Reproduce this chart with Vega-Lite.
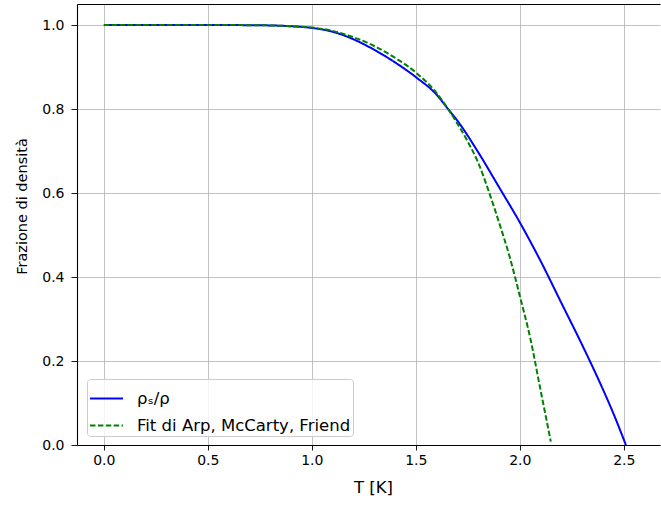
{
  "$schema": "https://vega.github.io/schema/vega-lite/v6.json",
  "width": 583,
  "height": 441,
  "autosize": {"type": "none"},
  "padding": {"left": 77, "top": 4, "right": 1, "bottom": 60},
  "background": "white",
  "config": {
    "view": {"stroke": null},
    "font": "DejaVu Sans",
    "axis": {
      "labelFont": "DejaVu Sans",
      "labelFontSize": 14,
      "labelColor": "#000000",
      "titleFont": "DejaVu Sans",
      "titleFontSize": 14,
      "titleFontWeight": "normal",
      "titleColor": "#000000",
      "tickColor": "#000000",
      "tickWidth": 0.9,
      "domain": true,
      "domainColor": "#000000",
      "domainWidth": 1.1,
      "grid": true,
      "gridColor": "#b0b0b0",
      "gridWidth": 0.9,
      "gridOpacity": 0.85
    },
    "legend": {
      "labelFont": "DejaVu Sans",
      "labelFontSize": 16.5,
      "labelColor": "#000000"
    }
  },
  "data": {
    "values": [
      {"T": 0.0, "v": 1.0, "s": "ρₛ/ρ"},
      {"T": 0.2, "v": 1.0, "s": "ρₛ/ρ"},
      {"T": 0.4, "v": 1.0, "s": "ρₛ/ρ"},
      {"T": 0.6, "v": 1.0, "s": "ρₛ/ρ"},
      {"T": 0.7, "v": 0.9995, "s": "ρₛ/ρ"},
      {"T": 0.8, "v": 0.999, "s": "ρₛ/ρ"},
      {"T": 0.9, "v": 0.997, "s": "ρₛ/ρ"},
      {"T": 1.0, "v": 0.993, "s": "ρₛ/ρ"},
      {"T": 1.1, "v": 0.984, "s": "ρₛ/ρ"},
      {"T": 1.2, "v": 0.966, "s": "ρₛ/ρ"},
      {"T": 1.3, "v": 0.941, "s": "ρₛ/ρ"},
      {"T": 1.4, "v": 0.911, "s": "ρₛ/ρ"},
      {"T": 1.5, "v": 0.876, "s": "ρₛ/ρ"},
      {"T": 1.6, "v": 0.834, "s": "ρₛ/ρ"},
      {"T": 1.655, "v": 0.80, "s": "ρₛ/ρ"},
      {"T": 1.7, "v": 0.772, "s": "ρₛ/ρ"},
      {"T": 1.8, "v": 0.697, "s": "ρₛ/ρ"},
      {"T": 1.9, "v": 0.614, "s": "ρₛ/ρ"},
      {"T": 2.0, "v": 0.530, "s": "ρₛ/ρ"},
      {"T": 2.1, "v": 0.438, "s": "ρₛ/ρ"},
      {"T": 2.2, "v": 0.338, "s": "ρₛ/ρ"},
      {"T": 2.3, "v": 0.238, "s": "ρₛ/ρ"},
      {"T": 2.4, "v": 0.132, "s": "ρₛ/ρ"},
      {"T": 2.45, "v": 0.075, "s": "ρₛ/ρ"},
      {"T": 2.51, "v": 0.0, "s": "ρₛ/ρ"},
      {"T": 0.0, "v": 1.0, "s": "Fit di Arp, McCarty, Friend"},
      {"T": 0.2, "v": 1.0, "s": "Fit di Arp, McCarty, Friend"},
      {"T": 0.4, "v": 1.0, "s": "Fit di Arp, McCarty, Friend"},
      {"T": 0.6, "v": 1.0, "s": "Fit di Arp, McCarty, Friend"},
      {"T": 0.7, "v": 0.9995, "s": "Fit di Arp, McCarty, Friend"},
      {"T": 0.8, "v": 0.999, "s": "Fit di Arp, McCarty, Friend"},
      {"T": 0.9, "v": 0.997, "s": "Fit di Arp, McCarty, Friend"},
      {"T": 1.0, "v": 0.994, "s": "Fit di Arp, McCarty, Friend"},
      {"T": 1.1, "v": 0.986, "s": "Fit di Arp, McCarty, Friend"},
      {"T": 1.2, "v": 0.971, "s": "Fit di Arp, McCarty, Friend"},
      {"T": 1.3, "v": 0.950, "s": "Fit di Arp, McCarty, Friend"},
      {"T": 1.4, "v": 0.922, "s": "Fit di Arp, McCarty, Friend"},
      {"T": 1.5, "v": 0.887, "s": "Fit di Arp, McCarty, Friend"},
      {"T": 1.6, "v": 0.838, "s": "Fit di Arp, McCarty, Friend"},
      {"T": 1.655, "v": 0.80, "s": "Fit di Arp, McCarty, Friend"},
      {"T": 1.7, "v": 0.765, "s": "Fit di Arp, McCarty, Friend"},
      {"T": 1.75, "v": 0.722, "s": "Fit di Arp, McCarty, Friend"},
      {"T": 1.8, "v": 0.672, "s": "Fit di Arp, McCarty, Friend"},
      {"T": 1.85, "v": 0.605, "s": "Fit di Arp, McCarty, Friend"},
      {"T": 1.9, "v": 0.53, "s": "Fit di Arp, McCarty, Friend"},
      {"T": 1.95, "v": 0.45, "s": "Fit di Arp, McCarty, Friend"},
      {"T": 2.0, "v": 0.355, "s": "Fit di Arp, McCarty, Friend"},
      {"T": 2.05, "v": 0.255, "s": "Fit di Arp, McCarty, Friend"},
      {"T": 2.1, "v": 0.13, "s": "Fit di Arp, McCarty, Friend"},
      {"T": 2.149, "v": 0.008, "s": "Fit di Arp, McCarty, Friend"}
    ]
  },
  "resolve": {"axis": {"x": "independent", "y": "independent"}},
  "layer": [
    {
      "mark": {"type": "line", "strokeWidth": 2, "clip": true, "interpolate": "monotone"},
      "encoding": {
        "x": {
          "field": "T",
          "type": "quantitative",
          "scale": {"domain": [-0.129, 2.674], "nice": false, "zero": false},
          "axis": {
            "title": "T [K]",
            "titleFontSize": 16.5,
            "titleX": 296,
            "values": [0, 0.5, 1, 1.5, 2, 2.5],
            "format": ".1f",
            "tickSize": 5,
            "labelPadding": 3,
            "titlePadding": 12,
            "labelFlush": false
          }
        },
        "y": {
          "field": "v",
          "type": "quantitative",
          "scale": {"domain": [0, 1.05], "nice": false, "zero": false},
          "axis": {
            "title": "Frazione di densità",
            "titleFontSize": 14.5,
            "titleY": 202,
            "values": [0, 0.2, 0.4, 0.6, 0.8, 1.0],
            "format": ".1f",
            "tickSize": 6,
            "labelPadding": 7,
            "titlePadding": 12,
            "labelFlush": false
          }
        },
        "color": {
          "field": "s",
          "type": "nominal",
          "scale": {
            "domain": ["ρₛ/ρ", "Fit di Arp, McCarty, Friend"],
            "range": ["#0000ff", "#008000"]
          },
          "legend": {
            "title": null,
            "orient": "none",
            "legendX": 10,
            "legendY": 375,
            "symbolType": "stroke",
            "symbolSize": 1089,
            "symbolStrokeWidth": 2,
            "labelOffset": 13,
            "labelLimit": 400,
            "rowPadding": 1,
            "padding": 2,
            "strokeColor": "#cccccc",
            "fillColor": "rgba(255,255,255,0.8)",
            "cornerRadius": 3
          }
        },
        "strokeDash": {
          "field": "s",
          "type": "nominal",
          "scale": {
            "domain": ["ρₛ/ρ", "Fit di Arp, McCarty, Friend"],
            "range": [[1, 0], [5.5, 2.4]]
          },
          "legend": null
        }
      }
    },
    {
      "mark": {"type": "line", "opacity": 0},
      "encoding": {
        "x": {
          "field": "T",
          "type": "quantitative",
          "axis": {
            "orient": "top",
            "title": null,
            "labels": false,
            "ticks": false,
            "grid": false,
            "domain": true
          }
        },
        "y": {
          "field": "v",
          "type": "quantitative",
          "axis": null
        }
      }
    }
  ]
}
